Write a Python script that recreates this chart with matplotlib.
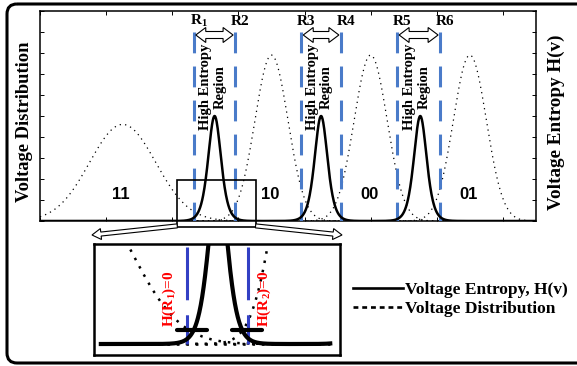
import numpy as np
import matplotlib
matplotlib.use('Agg')
import matplotlib.pyplot as plt
from matplotlib.patches import Polygon, FancyBboxPatch, Rectangle
from matplotlib.lines import Line2D
from matplotlib.font_manager import FontProperties

plt.rcParams['lines.scale_dashes'] = False
plt.rcParams['mathtext.fontset'] = 'custom'
plt.rcParams['mathtext.rm'] = 'Liberation Serif:bold'
plt.rcParams['mathtext.bf'] = 'Liberation Serif:bold'
plt.rcParams['mathtext.it'] = 'Liberation Serif:bold:italic'

# ---------------- data (voltage axis in volts) ----------------
state_labels = ['11', '10', '00', '01']
state_means = [0.25, 0.70, 1.00, 1.30]
state_peaks = [0.46, 0.79, 0.79, 0.79]
state_sigmas = [0.10, 0.05, 0.05, 0.05]

entropy_centers = [0.528, 0.85, 1.15]
entropy_peak = 0.50
entropy_width = 0.026

region_bounds = [(0.465, 0.59), (0.79, 0.91), (1.08, 1.21)]
region_names = [(r'R$_1$', 'R2'), ('R3', 'R4'), ('R5', 'R6')]

zoom_window = (0.415, 0.652, -0.028, 0.194)     # x0, x1, y0, y1 in main-plot units
inset_xlim = (0.274, 0.778)
inset_ylim = (-0.033, 0.30)
inset_curve_span = (0.288, 0.758)
threshold_centers = [0.475, 0.587]
threshold_halfwidth = 0.031
threshold_level = 0.042
zero_labels = [r'H(R$_1$)=0', r'H(R$_2$)=0']

XLIM = (0.0, 1.5)
YLIM = (0.0, 1.0)

# ---------------- layout helpers (pixel space) ----------------
W, H = 577, 366
AX_L, AX_T, AX_W, AX_H = 40, 11, 496, 210
IN_L, IN_T, IN_W, IN_H = 94, 244, 246, 111


def fig_rect(l, t, w, h):
    return [l / W, 1 - (t + h) / H, w / W, h / H]


def px_x(v):
    return AX_L + (v - XLIM[0]) / (XLIM[1] - XLIM[0]) * AX_W


def px_y(v):
    return AX_T + AX_H - (v - YLIM[0]) / (YLIM[1] - YLIM[0]) * AX_H


def hollow_arrow(p0, p1, shaft, head_w, head_l, both):
    p0, p1 = np.asarray(p0, float), np.asarray(p1, float)
    d = p1 - p0
    L = np.hypot(*d)
    u = d / L
    n = np.array([-u[1], u[0]])
    if both:
        local = [(0, 0), (head_l, head_w / 2), (head_l, shaft / 2),
                 (L - head_l, shaft / 2), (L - head_l, head_w / 2), (L, 0),
                 (L - head_l, -head_w / 2), (L - head_l, -shaft / 2),
                 (head_l, -shaft / 2), (head_l, -head_w / 2)]
    else:
        local = [(0, shaft / 2), (L - head_l, shaft / 2), (L - head_l, head_w / 2),
                 (L, 0), (L - head_l, -head_w / 2), (L - head_l, -shaft / 2),
                 (0, -shaft / 2)]
    return [p0 + s * u + t * n for s, t in local]


def distribution(x, m, p, s):
    return p * np.exp(-(x - m) ** 2 / (2 * s ** 2))


def entropy(x):
    y = np.zeros_like(x)
    for c in entropy_centers:
        y += entropy_peak / np.cosh((x - c) / entropy_width) ** 2
    return y


serif_b = dict(family='Liberation Serif', weight='bold')

fig = plt.figure(figsize=(W / 100, H / 100), dpi=100)

# ---------------- main plot ----------------
ax = fig.add_axes(fig_rect(AX_L, AX_T, AX_W, AX_H), zorder=1)
ax.set_xlim(*XLIM)
ax.set_ylim(*YLIM)
x = np.linspace(XLIM[0], XLIM[1], 1500)
for m, p, s in zip(state_means, state_peaks, state_sigmas):
    ax.plot(x, distribution(x, m, p, s), color='k', lw=0.9, dashes=(0.9, 3.0), zorder=2)
ax.plot(x, entropy(x), color='k', lw=1.8, zorder=4)

for (a, b), (na, nb) in zip(region_bounds, region_names):
    for v, name in ((a, na), (b, nb)):
        ax.plot([v, v], [0.9, 0.0], color='#4a7bc9', lw=2.2, dashes=(15, 9.5), zorder=3)
        ax.text(v + 0.015, 0.952, name, ha='center', va='center', fontsize=11, **serif_b)
    ax.text((a + b) / 2 - 0.005, 0.64, 'High Entropy\nRegion', rotation=90,
            ha='center', va='center', multialignment='center', linespacing=1.1,
            fontsize=10.5, **serif_b)

for lab, m in zip(state_labels, state_means):
    ax.text(m - 0.005, 0.124, lab, ha='center', va='center', fontsize=12,
            family='Liberation Sans', weight='bold')

zx0, zx1, zy0, zy1 = zoom_window
ax.add_patch(Rectangle((zx0, zy0), zx1 - zx0, zy1 - zy0, fill=False, ec='k',
                       lw=1.2, clip_on=False, zorder=5))

ax.set_xticks(np.arange(0, 1.41, 0.2))
ax.set_yticks(np.arange(0, 1.01, 0.1))
ax.tick_params(direction='in', length=3, width=0.7, top=True, right=True,
               labelbottom=False, labelleft=False)
for sp in ax.spines.values():
    sp.set_linewidth(1.1)

# ---------------- overlay in pixel space ----------------
ov = fig.add_axes([0, 0, 1, 1], zorder=2)
ov.set_xlim(0, W)
ov.set_ylim(H, 0)
ov.axis('off')
ov.patch.set_visible(False)

ov.add_patch(FancyBboxPatch((7, 4), 620, 359, boxstyle='round,pad=0,rounding_size=10',
                            fc='none', ec='k', lw=2.2))

for a, b in region_bounds:
    pts = hollow_arrow((px_x(a) + 2, 35), (px_x(b) - 2, 35), 7, 15, 10, True)
    ov.add_patch(Polygon(pts, closed=True, fc='white', ec='k', lw=0.8, zorder=6))

ov.add_patch(Polygon(hollow_arrow((px_x(zx0), px_y(zy0) - 1), (IN_L - 2, IN_T - 9), 4, 11, 9, False),
                     closed=True, fc='white', ec='k', lw=0.8))
ov.add_patch(Polygon(hollow_arrow((px_x(zx1), px_y(zy0) - 1), (IN_L + IN_W + 2, IN_T - 9), 4, 11, 9, False),
                     closed=True, fc='white', ec='k', lw=0.8))

ov.text(25, 122, 'Voltage Distribution', rotation=90, ha='center', va='center',
        fontsize=13.3, **serif_b)
ov.text(556, 122, 'Voltage Entropy H(v)', rotation=90, ha='center', va='center',
        fontsize=13.8, **serif_b)

# ---------------- zoomed inset ----------------
axi = fig.add_axes(fig_rect(IN_L, IN_T, IN_W, IN_H), zorder=3)
axi.set_xlim(*inset_xlim)
axi.set_ylim(*inset_ylim)
xi = np.linspace(inset_curve_span[0], inset_curve_span[1], 800)
for m, p, s in zip(state_means, state_peaks, state_sigmas):
    axi.plot(xi, distribution(xi, m, p, s), color='k', lw=1.8, dashes=(1.8, 5.0), zorder=2)
axi.plot(xi, entropy(xi), color='k', lw=3.0, zorder=4)
r1, r2 = region_bounds[0]
for v in (r1, r2):
    axi.plot([v, v], [0.291, 0.0], color='#3340c4', lw=2.2, dashes=(38, 10.8), zorder=3)
for c in threshold_centers:
    axi.plot([c - threshold_halfwidth, c + threshold_halfwidth], [threshold_level] * 2,
             color='k', lw=3.0, solid_capstyle='round', zorder=5)
for v, lab, off in zip((r1, r2), zero_labels, (-0.036, 0.033)):
    axi.text(v + off, 0.136, lab, rotation=90, ha='center', va='center',
             color='red', fontsize=11, **serif_b)
axi.set_xticks([])
axi.set_yticks([])
for sp in axi.spines.values():
    sp.set_linewidth(1.8)

# ---------------- legend ----------------
handles = [Line2D([], [], color='k', lw=1.9),
           Line2D([], [], color='k', lw=1.9, dashes=(3.5, 2.8))]
fig.legend(handles, ['Voltage Entropy, H(v)', 'Voltage Distribution'],
           loc='upper left', bbox_to_anchor=(353 / W, 1 - 282 / H),
           frameon=False, prop=FontProperties(family='Liberation Serif', weight='bold', size=12.5),
           handlelength=2.9, handletextpad=0.12, labelspacing=0.15,
           borderaxespad=0, borderpad=0)

fig.savefig('out.png', dpi=100)
